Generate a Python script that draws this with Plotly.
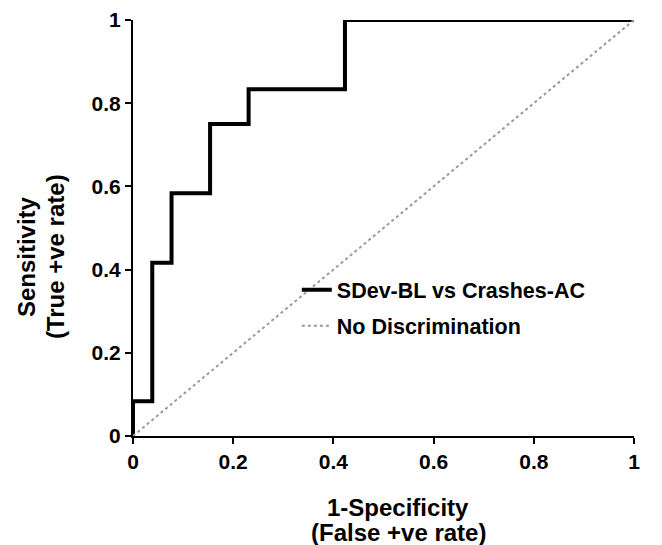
import plotly.graph_objects as go

# ROC step curve (12 positives, 26 negatives)
fpr = [0, 0, 1/26, 1/26, 2/26, 2/26, 4/26, 4/26, 6/26, 6/26, 11/26, 11/26, 1]
tpr = [0, 1/12, 1/12, 5/12, 5/12, 7/12, 7/12, 9/12, 9/12, 10/12, 10/12, 1, 1]
diag_x = [0, 1]
diag_y = [0, 1]
ticks = [0, 0.2, 0.4, 0.6, 0.8, 1]
tick_labels = ["0", "0.2", "0.4", "0.6", "0.8", "1"]
x_title_lines = ["1-Specificity", "(False +ve rate)"]
y_title_lines = ["Sensitivity", "(True +ve rate)"]

FONT = "Liberation Sans, Arial, sans-serif"

fig = go.Figure()
fig.add_trace(go.Scatter(x=fpr, y=tpr, mode="lines", name="SDev-BL vs Crashes-AC",
                         legendgroup="a",
                         line=dict(color="black", width=4), cliponaxis=False))
fig.add_trace(go.Scatter(x=diag_x, y=diag_y, mode="lines", name="No Discrimination",
                         legendgroup="b",
                         line=dict(color="#9a9a9a", width=2, dash="dot"), cliponaxis=False))

axis_common = dict(range=[0, 1], tickvals=ticks, ticktext=tick_labels,
                   showline=True, linecolor="black", linewidth=2,
                   ticks="outside", ticklen=6, tickwidth=2, tickcolor="black",
                   showgrid=False, zeroline=False, automargin=False,
                   tickfont=dict(family=FONT, size=21, color="black", weight="bold"))

title_font = dict(family=FONT, size=24, color="black", weight="bold")

annotations = []
for line, shift in zip(x_title_lines, [-71, -96.5]):
    annotations.append(dict(text=line, xref="paper", yref="paper", x=0.529, y=0,
                            xanchor="center", yanchor="middle", yshift=shift,
                            showarrow=False, font=title_font))
for line, shift in zip(y_title_lines, [-107, -78]):
    annotations.append(dict(text=line, xref="paper", yref="paper", x=0, y=0.43,
                            xanchor="center", yanchor="middle", xshift=shift,
                            textangle=-90, showarrow=False, font=title_font))

fig.update_layout(
    width=662, height=545,
    margin=dict(l=125, r=36, t=12, b=117),
    paper_bgcolor="white", plot_bgcolor="white",
    xaxis=axis_common,
    yaxis=axis_common,
    annotations=annotations,
    legend=dict(x=0.327, y=0.308, xanchor="left", yanchor="middle",
                bgcolor="rgba(0,0,0,0)", tracegroupgap=5,
                font=dict(family=FONT, size=21.5, color="black", weight="bold")),
    showlegend=True,
)

fig.write_html("out.html")
